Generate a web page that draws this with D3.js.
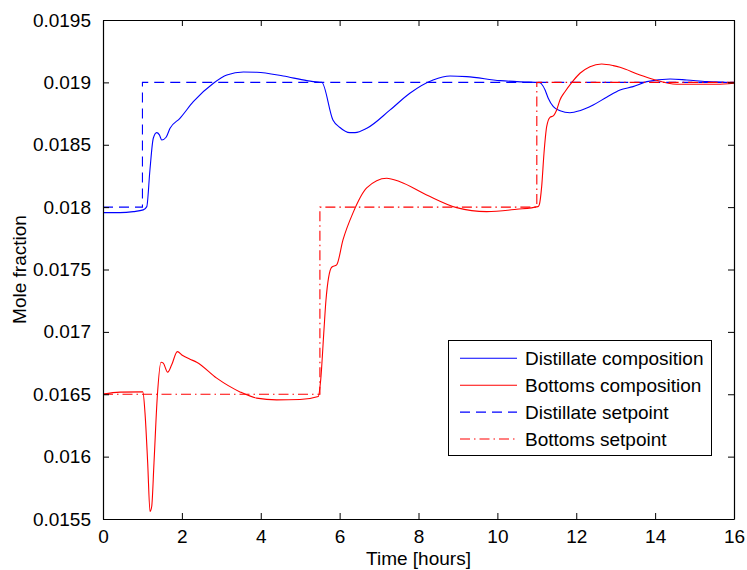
<!DOCTYPE html>
<html>
<head>
<meta charset="utf-8">
<script src="https://cdn.jsdelivr.net/npm/d3@7"></script>
<style>
  html, body { margin: 0; padding: 0; background: #fff; }
  svg { display: block; }
  text { font-family: "Liberation Sans", Arial, sans-serif; fill: #000; }
</style>
</head>
<body>
<svg id="chart" width="747" height="570"></svg>
<script>
// ---- data ----
const xTicks = [0, 2, 4, 6, 8, 10, 12, 14, 16];
const yTicks = [0.0155, 0.016, 0.0165, 0.017, 0.0175, 0.018, 0.0185, 0.019, 0.0195];
const yTickLabels = ["0.0155", "0.016", "0.0165", "0.017", "0.0175", "0.018", "0.0185", "0.019", "0.0195"];

const distT = [0, 0.43, 0.77, 1.02, 1.11, 1.19, 1.275, 1.36, 1.43, 1.49, 1.6, 1.7, 1.95, 2.29, 2.8, 3.14, 3.56, 3.9, 4.57, 5.17, 5.5, 5.545, 5.83, 6.0, 6.26, 6.39, 6.69, 7.28, 7.78, 8.37, 8.8, 9.22, 10.07, 10.6, 11.08, 11.12, 11.21, 11.29, 11.42, 11.59, 11.84, 12.09, 12.43, 12.77, 13.11, 13.44, 13.79, 14.38, 14.8, 15.31, 16.0];
const distV = [0.017956, 0.017956, 0.017964, 0.017978, 0.018004, 0.018298, 0.018552, 0.018597, 0.018579, 0.018538, 0.01856, 0.018632, 0.018712, 0.018845, 0.018993, 0.019059, 0.019083, 0.019081, 0.019051, 0.019014, 0.019001, 0.019001, 0.018699, 0.018640, 0.018597, 0.018597, 0.018632, 0.018779, 0.018913, 0.019019, 0.019051, 0.019046, 0.019014, 0.019004, 0.018998, 0.018987, 0.018939, 0.018873, 0.018805, 0.018773, 0.018757, 0.018773, 0.018819, 0.018881, 0.018939, 0.018966, 0.019006, 0.019027, 0.019019, 0.019006, 0.018998];

const botT = [0, 0.43, 1.01, 1.065, 1.133, 1.192, 1.235, 1.293, 1.377, 1.471, 1.529, 1.64, 1.742, 1.884, 2.021, 2.206, 2.376, 2.883, 3.474, 3.897, 4.404, 4.995, 5.459, 5.52, 5.603, 5.654, 5.799, 5.925, 6.085, 6.339, 6.686, 7.193, 7.53, 8.207, 8.968, 9.729, 10.489, 11.029, 11.062, 11.123, 11.182, 11.25, 11.334, 11.417, 11.503, 11.587, 11.714, 11.884, 12.094, 12.348, 12.644, 12.939, 13.109, 13.616, 13.945, 14.546, 15.56, 16.0];
const botV = [0.016501, 0.016517, 0.016519, 0.016351, 0.01595, 0.01556, 0.0156, 0.01595, 0.016482, 0.016757, 0.016749, 0.016677, 0.016736, 0.016842, 0.01681, 0.016781, 0.016757, 0.016629, 0.016519, 0.016469, 0.016455, 0.016458, 0.016482, 0.016615, 0.017016, 0.017256, 0.017518, 0.017537, 0.017737, 0.017954, 0.018154, 0.018232, 0.018204, 0.018098, 0.017996, 0.017964, 0.017983, 0.018004, 0.018018, 0.018164, 0.018432, 0.018645, 0.01872, 0.018731, 0.018779, 0.018859, 0.018925, 0.018998, 0.019073, 0.019126, 0.019147, 0.019134, 0.019121, 0.019059, 0.019025, 0.018985, 0.018985, 0.018993];

const distSpT = [0, 1, 1, 16];
const distSpV = [0.018, 0.018, 0.019, 0.019];
const botSpT = [0, 5.5, 5.5, 11, 11, 16];
const botSpV = [0.0165, 0.0165, 0.018, 0.018, 0.019, 0.019];

const seriesNames = ["Distillate composition", "Bottoms composition", "Distillate setpoint", "Bottoms setpoint"];

// ---- layout ----
const svg = d3.select("#chart");
const L = 103, R = 734, T = 20, B = 519;
const x = d3.scaleLinear().domain([0, 16]).range([L, R]);
const y = d3.scaleLinear().domain([0.0155, 0.0195]).range([B, T]);
const FS = 19;

const styles = [
  { color: "#0000ff", dash: null },
  { color: "#ff0000", dash: null },
  { color: "#0000ff", dash: "10,6" },
  { color: "#ff0000", dash: "10,4,1.5,4" }
];

svg.append("defs").append("clipPath").attr("id", "clip")
  .append("rect").attr("x", L).attr("y", T).attr("width", R - L).attr("height", B - T);

const zip = (a, b) => a.map((t, i) => [t, b[i]]);
const data = [zip(distT, distV), zip(botT, botV), zip(distSpT, distSpV), zip(botSpT, botSpV)];

const gLines = svg.append("g").attr("clip-path", "url(#clip)");
data.forEach((d, i) => {
  const line = d3.line().x(p => x(p[0])).y(p => y(p[1]))
    .curve(i < 2 ? d3.curveMonotoneX : d3.curveLinear);
  gLines.append("path").datum(d).attr("d", line)
    .attr("fill", "none").attr("stroke", styles[i].color)
    .attr("stroke-width", 1.1)
    .attr("stroke-dasharray", styles[i].dash);
});

// axes (MATLAB style box with inward ticks)
const tickLen = 6;
const fmt = v => yTickLabels[yTicks.indexOf(v)];
const axB = svg.append("g").attr("transform", `translate(0,${B})`)
  .call(d3.axisBottom(x).tickValues(xTicks).tickSizeInner(-tickLen).tickSizeOuter(0).tickPadding(11).tickFormat(d3.format("d")));
const axT = svg.append("g").attr("transform", `translate(0,${T})`)
  .call(d3.axisTop(x).tickValues(xTicks).tickSizeInner(-tickLen).tickSizeOuter(0).tickFormat(""));
const axL = svg.append("g").attr("transform", `translate(${L},0)`)
  .call(d3.axisLeft(y).tickValues(yTicks).tickSizeInner(-tickLen).tickSizeOuter(0).tickPadding(12).tickFormat(fmt));
const axR = svg.append("g").attr("transform", `translate(${R},0)`)
  .call(d3.axisRight(y).tickValues(yTicks).tickSizeInner(-tickLen).tickSizeOuter(0).tickFormat(""));
[axB, axT, axL, axR].forEach(g => {
  g.selectAll("path.domain").attr("stroke", "#000").attr("stroke-width", 1.2);
  g.selectAll(".tick line").attr("stroke", "#000").attr("stroke-width", 1);
  g.selectAll("text").style("font-size", FS + "px").style("font-family", '"Liberation Sans", Arial, sans-serif').attr("fill", "#000");
});

// axis labels
svg.append("text").attr("x", (L + R) / 2).attr("y", 565).attr("text-anchor", "middle")
  .style("font-size", FS + "px").text("Time [hours]");
svg.append("text").attr("transform", `translate(25.5,${(T + B) / 2}) rotate(-90)`).attr("text-anchor", "middle")
  .style("font-size", FS + "px").text("Mole fraction");

// legend
const lg = svg.append("g");
lg.append("rect").attr("x", 448.5).attr("y", 340.5).attr("width", 263).attr("height", 115)
  .attr("fill", "#fff").attr("stroke", "#000").attr("stroke-width", 1);
seriesNames.forEach((name, i) => {
  const cy = 358.3 + i * 26.9;
  lg.append("line").attr("x1", 460).attr("x2", 517).attr("y1", cy).attr("y2", cy)
    .attr("stroke", styles[i].color).attr("stroke-width", 1.1)
    .attr("stroke-dasharray", styles[i].dash);
  lg.append("text").attr("x", 525).attr("y", cy).attr("dy", "0.35em")
    .style("font-size", FS + "px").text(name);
});
</script>
</body>
</html>
